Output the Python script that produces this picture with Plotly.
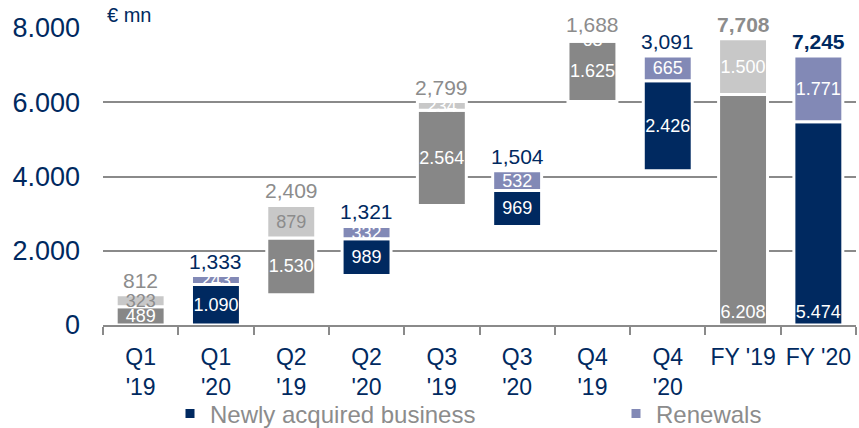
import plotly.graph_objects as go

# ---- data ----
categories = ["Q1<br>'19", "Q1<br>'20", "Q2<br>'19", "Q2<br>'20", "Q3<br>'19",
              "Q3<br>'20", "Q4<br>'19", "Q4<br>'20", "FY '19", "FY '20"]
x19 = ["Q1<br>'19", "Q2<br>'19", "Q3<br>'19", "Q4<br>'19", "FY '19"]
x20 = ["Q1<br>'20", "Q2<br>'20", "Q3<br>'20", "Q4<br>'20", "FY '20"]
new19 = [489, 1530, 2564, 1625, 6208]
ren19 = [323, 879, 234, 63, 1500]
tot19 = [812, 2409, 2799, 1688, 7708]
new20 = [1090, 989, 969, 2426, 5474]
ren20 = [243, 332, 532, 665, 1771]
tot20 = [1333, 1321, 1504, 3091, 7245]
ytick_vals = [0, 2000, 4000, 6000, 8000]
ytick_text = ["0", "2.000", "4.000", "6.000", "8.000"]

NAVY = "#002960"
LAV = "#8289b6"
DGRAY = "#878787"
LGRAY = "#c8c8c8"
TGRAY = "#8c8c8c"
FONT = "Arial, Liberation Sans, sans-serif"


def bases(new, ren):
    out, run = [], 0
    for i, (n, r) in enumerate(zip(new, ren)):
        if i == len(new) - 1:
            out.append(0)
        else:
            out.append(run)
            run += n + r
    return out


def dots(v):
    return f"{v:,}".replace(",", ".")


b19 = bases(new19, ren19)
b20 = bases(new20, ren20)

fig = go.Figure()
common = dict(width=0.65, marker_line_color="white", marker_line_width=3,
              textposition="inside", textangle=0,
              hoverinfo="skip", cliponaxis=False)
white18 = dict(color="white", family=FONT, size=18)

# newly acquired, quarterly (centered labels) and full year (labels near the bottom)
for xs, vals, bs, col, show, lg in [(x19, new19, b19, DGRAY, False, "legend"),
                                    (x20, new20, b20, NAVY, True, "legend")]:
    fig.add_trace(go.Bar(x=xs[:4], y=vals[:4], base=bs[:4], marker_color=col,
                         text=[dots(v) for v in vals[:4]], insidetextanchor="middle",
                         insidetextfont=white18, showlegend=show, legend=lg,
                         legendgroup=col, name="Newly acquired business", **common))
    fig.add_trace(go.Bar(x=xs[4:], y=vals[4:], base=bs[4:], marker_color=col,
                         text=[dots(v) for v in vals[4:]], insidetextanchor="start",
                         insidetextfont=white18, showlegend=False, legendgroup=col,
                         name="Newly acquired business", **common))

fig.add_trace(go.Bar(x=x19, y=ren19, base=[b + n for b, n in zip(b19, new19)],
                     marker_color=LGRAY, text=[dots(v) for v in ren19], showlegend=False,
                     insidetextanchor="middle",
                     insidetextfont=dict(color=[TGRAY, TGRAY, "white", "white", "white"],
                                         family=FONT, size=18),
                     name="2019 renewals", **common))
fig.add_trace(go.Bar(x=x20, y=ren20, base=[b + n for b, n in zip(b20, new20)],
                     marker_color=LAV, text=[dots(v) for v in ren20], name="Renewals",
                     insidetextanchor="middle", insidetextfont=white18,
                     legend="legend2", **common))

annotations = []
for xs, bs, ns, rs, ts, col in [(x19, b19, new19, ren19, tot19, TGRAY),
                                (x20, b20, new20, ren20, tot20, NAVY)]:
    for i, (x, b, n, r, t) in enumerate(zip(xs, bs, ns, rs, ts)):
        fy = i == len(xs) - 1
        annotations.append(dict(
            x=x, y=b + n + r, xref="x", yref="y", text=(f"<b>{t:,}</b>" if fy else f"{t:,}"),
            showarrow=False, yanchor="bottom", yshift=1,
            font=dict(family=FONT, size=21, color=col)))
annotations.append(dict(x=0, y=1, xref="paper", yref="paper", text="€ mn",
                        showarrow=False, xanchor="left", yanchor="bottom", xshift=2,
                        font=dict(family=FONT, size=20, color=NAVY)))

legend_common = dict(orientation="h", xref="container", yref="container",
                     y=(428 - 414) / 428, xanchor="left", yanchor="middle",
                     font=dict(family=FONT, size=24, color=TGRAY),
                     bgcolor="rgba(0,0,0,0)")

fig.update_layout(
    width=859, height=428,
    margin=dict(l=103, r=3, t=28, b=103, autoexpand=False),
    paper_bgcolor="white", plot_bgcolor="white",
    barmode="overlay",
    uniformtext=dict(minsize=18, mode="show"),
    font=dict(family=FONT, color=NAVY),
    annotations=annotations,
    legend=dict(x=170 / 859, **legend_common),
    legend2=dict(x=616 / 859, **legend_common),
    xaxis=dict(type="category", categoryorder="array", categoryarray=categories,
               showline=True, linecolor="#8a8a8a", linewidth=2, tickangle=0,
               automargin=False,
               ticks="outside", tickson="boundaries", ticklen=8, tickwidth=2,
               tickcolor="#8a8a8a", tickfont=dict(family=FONT, size=23, color=NAVY),
               ticklabelstandoff=10, showgrid=False),
    yaxis=dict(range=[0, 8000], tickvals=ytick_vals, ticktext=ytick_text,
               automargin=False,
               showgrid=True, gridcolor="#8a8a8a", gridwidth=2, zeroline=False,
               showline=False, ticks="", tickfont=dict(family=FONT, size=27, color=NAVY),
               ticklabelstandoff=22),
)

fig.write_html("out.html", config={"displayModeBar": False},
               post_script="document.body.style.margin='0px';")
